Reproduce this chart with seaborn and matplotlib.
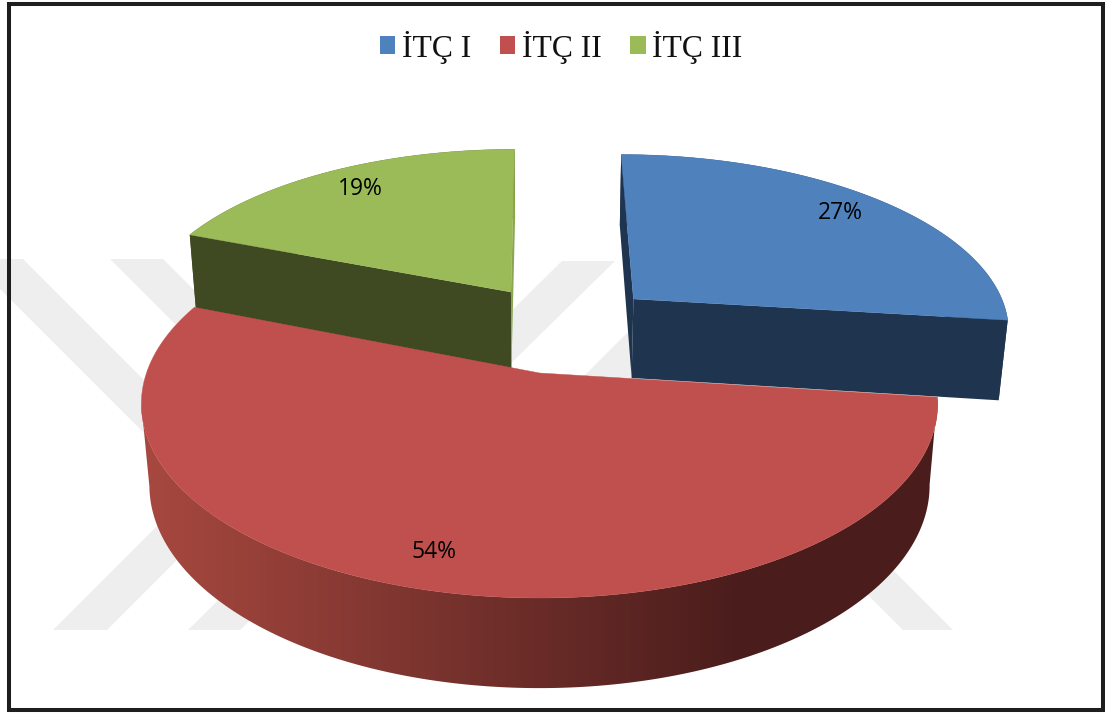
import numpy as np
import matplotlib
matplotlib.use("Agg")
import matplotlib.pyplot as plt
from matplotlib.patches import Polygon, Patch, Rectangle
from matplotlib.colors import LinearSegmentedColormap
import seaborn as sns

# ---- data ----
categories = ["İTÇ I", "İTÇ II", "İTÇ III"]
percent_values = [27, 54, 19]

# ---- style ----
top_colors = sns.color_palette(["#4F81BD", "#C0504D", "#9BBB59"])
front_colors = ["#1F344F", None, "#3F4A22"]
inner_colors = ["#1F344F", None, "#8AA64F"]
label_pos = [(840, 213), (434, 552), (360, 189)]
explode = [(0.255, 0.418), (0.0, 0.0), (-0.078, 0.46)]
depth_scale = [1.03, 1.0, 1.0]

sns.set_theme(style="white")
fig = plt.figure(figsize=(11.05, 7.13), dpi=100)
ax = fig.add_axes([0, 0, 1, 1])
ax.set_xlim(0, 1105)
ax.set_ylim(713, 0)
ax.axis("off")

# perspective projection of the pie's disc
CX, CY, R, S, K, D, N = 539.5, 373.0, 393.0, 189.0, 0.16, 82.0, 0.02


def project(u, v, z=0.0):
    w = 1 + K * v + N * z
    return CX + R * u / w, CY + (-S * v + D * z) / w


def rim(theta, off, z=0.0):
    u = np.sin(theta) + off[0]
    v = np.cos(theta) + off[1]
    return np.column_stack(project(u, v, z))


# watermark bands behind the chart
wm = "#EEEEEE"
bands = [
    [(-30, 259), (23, 259), (290, 526), (237, 526)],
    [(110, 259), (163, 259), (330, 426), (277, 426)],
    [(562, 261), (615, 261), (240, 630), (188, 630)],
    [(303, 380), (357, 380), (107, 630), (53, 630)],
    [(330, 630), (382, 630), (692, 320), (640, 320)],
    [(653, 380), (703, 380), (953, 630), (903, 630)],
]
for b in bands:
    ax.add_patch(Polygon(b, closed=True, fc=wm, ec="none", zorder=1))

# wedge angles derived from the values
total = sum(percent_values)
edges = np.cumsum([0] + percent_values) / total * 2 * np.pi

side_cmap = LinearSegmentedColormap.from_list("side", ["#A6483F", "#4A1D1C"])


def draw_wedge(i, zbase):
    a0, a1 = edges[i], edges[i + 1]
    off = explode[i]
    dz = depth_scale[i]
    t = np.linspace(a0, a1, 240)
    apex_top = np.array(project(off[0], off[1], 0.0))
    apex_bot = np.array(project(off[0], off[1], dz))
    rim_top = rim(t, off, 0.0)
    rim_bot = rim(t, off, dz)
    if i == 1:
        # outer wall: from the right tangent round the front to the left tangent
        top_left = int(np.argmin(rim_top[:, 0]))
        bot_left = int(np.argmin(rim_bot[:, 0]))
        bot_right = int(np.argmax(rim_bot[:, 0]))
        outline = np.vstack([rim_top[:top_left + 1], rim_bot[bot_right:bot_left + 1][::-1]])
        grad = np.clip((np.linspace(0, 1105, 512) - 150.0) / (740.0 - 150.0), 0, 1)[None, :]
        im = ax.imshow(grad, cmap=side_cmap, vmin=0, vmax=1, aspect="auto",
                       extent=(0, 1105, 713, 0), zorder=zbase, interpolation="bilinear")
        clip = Polygon(outline, closed=True, fc="none", ec="none", transform=ax.transData)
        ax.add_patch(clip)
        im.set_clip_path(clip)
    else:
        outline = np.vstack([rim_top, rim_bot[::-1]])
        ax.add_patch(Polygon(outline, closed=True, fc=front_colors[i], ec="none", zorder=zbase))
        start = [rim_top[0], apex_top, apex_bot, rim_bot[0]]
        stop = [rim_top[-1], apex_top, apex_bot, rim_bot[-1]]
        f_first, f_last = (inner_colors[i], front_colors[i]) if i == 0 else (front_colors[i], inner_colors[i])
        ax.add_patch(Polygon(start, closed=True, fc=f_first, ec="none", zorder=zbase + 0.1))
        ax.add_patch(Polygon(stop, closed=True, fc=f_last, ec="none", zorder=zbase + 0.1))
    top = np.vstack([apex_top, rim_top])
    ax.add_patch(Polygon(top, closed=True, fc=top_colors[i], ec=top_colors[i],
                         lw=0.3, zorder=zbase + 0.2))


draw_wedge(2, 2)
draw_wedge(0, 3)
draw_wedge(1, 4)
ax.set_xlim(0, 1105)
ax.set_ylim(713, 0)

# percentage labels
for v, (lx, ly) in zip(percent_values, label_pos):
    ax.text(lx, ly, f"{v}%", ha="center", va="center", fontsize=16.5,
            family="Open Sans", color="black", zorder=6)

# outer frame
ax.add_patch(Rectangle((9, 4), 1094, 706, fc="none", ec="#1E1E1E", lw=2.9, zorder=7))

# legend
handles = [Patch(fc=c, ec="none") for c in top_colors]
leg = ax.legend(handles, categories, ncol=3, loc="center", bbox_to_anchor=(561 / 1105, 1 - 47 / 713),
                bbox_transform=fig.transFigure, frameon=False,
                prop={"family": "Liberation Serif", "size": 22.8},
                handlelength=0.5, handleheight=0.5, handletextpad=0.2, columnspacing=0.9,
                borderpad=0, labelspacing=0)
leg.set_zorder(8)
for t in leg.get_texts():
    t.set_color("#111111")

fig.savefig("out.png", dpi=100, facecolor="white")
